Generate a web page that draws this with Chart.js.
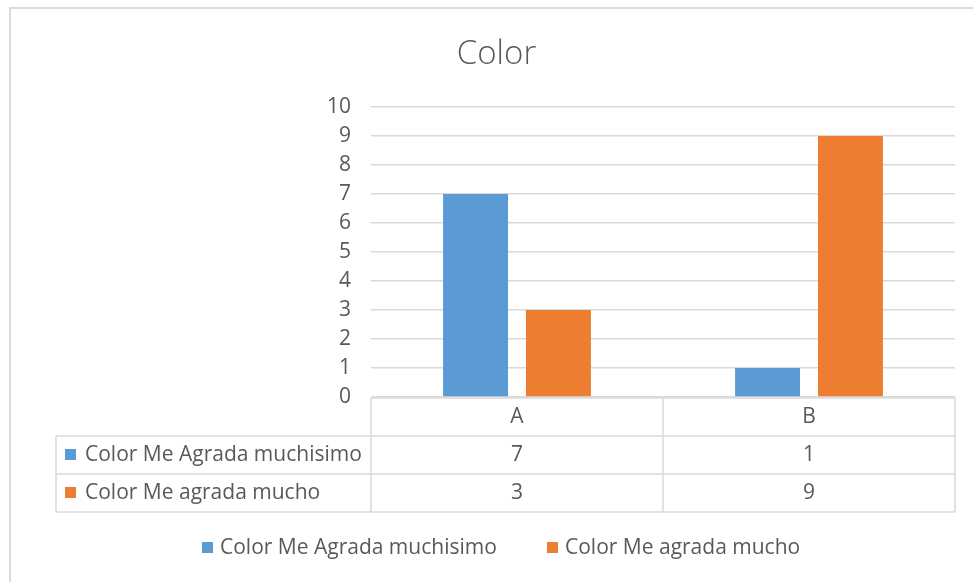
<!DOCTYPE html>
<html>
<head>
<meta charset="utf-8">
<script src="https://cdn.jsdelivr.net/npm/chart.js@4.4.1/dist/chart.umd.min.js"></script>
<style>
  html, body { margin: 0; padding: 0; background: #fff; }
  #wrap { width: 973px; height: 582px; }
</style>
</head>
<body>
<div id="wrap"><canvas id="colorChart" width="973" height="582"></canvas></div>
<script>
const chartTitle = 'Color';
const categories = ['A', 'B'];
const seriesNames = ['Color Me Agrada muchisimo', 'Color Me agrada mucho'];
const muchisimo = [7, 1];
const mucho = [3, 9];
const seriesColors = ['#5B9BD5', '#ED7D31'];
const yTicks = [0, 1, 2, 3, 4, 5, 6, 7, 8, 9, 10];

const textColor = '#595959';
const lineColor = '#D9D9D9';
const fontFamily = '"Open Sans", "Noto Sans", sans-serif';

// frame + title + data table + bottom legend, drawn around the chart area
const tablePlugin = {
  id: 'dataTable',
  beforeDraw(chart) {
    const ctx = chart.ctx;
    ctx.save();
    ctx.strokeStyle = '#DCDCDC';
    ctx.lineWidth = 2;
    ctx.strokeRect(10, 8, chart.width + 20, chart.height + 20);
    ctx.restore();
  },
  afterDraw(chart) {
    const ctx = chart.ctx;
    const x = chart.scales.x;
    const area = chart.chartArea;
    const rowH = 38;
    const top = area.bottom + 1;
    const tableLeft = 56;
    const colW = (x.right - x.left) / categories.length;
    const series = [muchisimo, mucho];

    ctx.save();
    // title, centred on the whole frame
    ctx.fillStyle = textColor;
    ctx.font = '300 33px ' + fontFamily;
    ctx.textAlign = 'center';
    ctx.textBaseline = 'middle';
    ctx.fillText(chartTitle, chart.width / 2 + 10, 55);

    // grid of the table
    ctx.strokeStyle = lineColor;
    ctx.lineWidth = 1.5;
    ctx.beginPath();
    ctx.moveTo(x.left, top);
    ctx.lineTo(x.right, top);
    for (let r = 1; r <= 3; r++) {
      ctx.moveTo(tableLeft, top + r * rowH);
      ctx.lineTo(x.right, top + r * rowH);
    }
    ctx.moveTo(tableLeft, top + rowH);
    ctx.lineTo(tableLeft, top + 3 * rowH);
    for (let c = 0; c <= categories.length; c++) {
      const cx = x.left + c * colW;
      ctx.moveTo(cx, top);
      ctx.lineTo(cx, top + 3 * rowH);
    }
    ctx.stroke();

    ctx.font = '21px ' + fontFamily;
    ctx.fillStyle = textColor;
    ctx.textAlign = 'center';
    categories.forEach((cat, i) => {
      const cx = x.getPixelForValue(i);
      ctx.fillText(cat, cx, top + rowH / 2);
      series.forEach((vals, s) => {
        ctx.fillText(String(vals[i]), cx, top + rowH * (s + 1.5));
      });
    });

    // series labels in the table
    ctx.textAlign = 'left';
    seriesNames.forEach((name, s) => {
      const cy = top + rowH * (s + 1.5);
      ctx.fillStyle = seriesColors[s];
      ctx.fillRect(65, cy - 6, 11, 11);
      ctx.fillStyle = textColor;
      ctx.fillText(name, 85, cy);
    });

    // bottom legend
    const legendY = 548;
    const legendX = [202, 547];
    seriesNames.forEach((name, s) => {
      ctx.fillStyle = seriesColors[s];
      ctx.fillRect(legendX[s], legendY - 6, 11, 11);
      ctx.fillStyle = textColor;
      ctx.fillText(name, legendX[s] + 18, legendY);
    });
    ctx.restore();
  }
};

new Chart(document.getElementById('colorChart'), {
  type: 'bar',
  data: {
    labels: categories,
    datasets: [
      { label: seriesNames[0], data: muchisimo, backgroundColor: seriesColors[0] },
      { label: seriesNames[1], data: mucho, backgroundColor: seriesColors[1] }
    ]
  },
  options: {
    responsive: false,
    animation: false,
    datasets: {
      bar: { categoryPercentage: 0.568, barPercentage: 0.783 }
    },
    layout: { padding: { top: 107, right: 18, left: 0, bottom: 0 } },
    scales: {
      x: {
        ticks: { display: false },
        grid: { display: false },
        border: { display: false },
        afterFit: (s) => { s.height = 185; }
      },
      y: {
        min: 0,
        max: 10,
        afterBuildTicks: (s) => { s.ticks = yTicks.map(v => ({ value: v })); },
        ticks: {
          color: textColor,
          padding: 20,
          font: { family: fontFamily, size: 21 }
        },
        grid: { color: lineColor, lineWidth: 1.5, drawTicks: false },
        border: { display: false },
        afterFit: (s) => { s.width = 371; }
      }
    },
    plugins: {
      legend: { display: false },
      title: { display: false },
      tooltip: { enabled: false }
    }
  },
  plugins: [tablePlugin]
});
</script>
</body>
</html>
